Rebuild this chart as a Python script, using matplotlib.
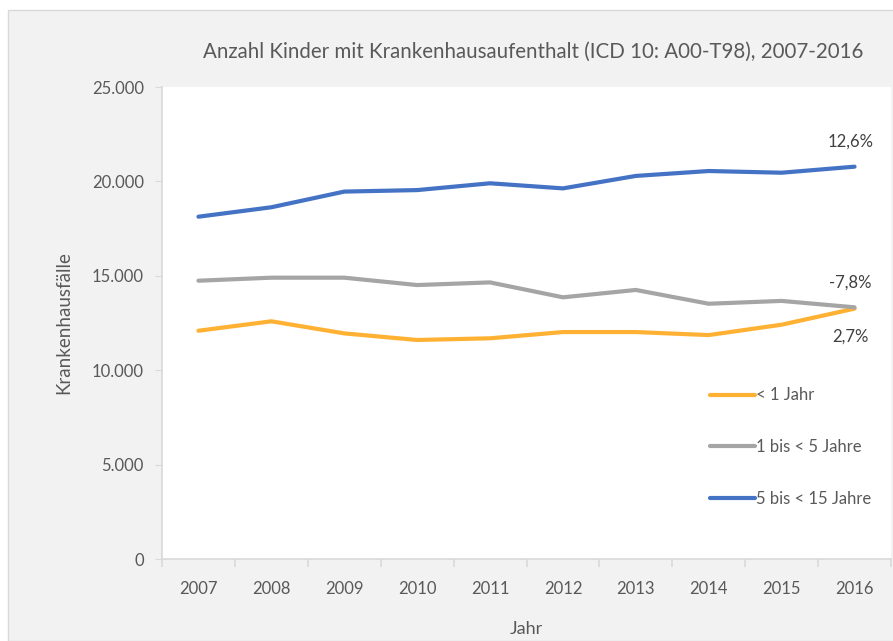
import matplotlib.pyplot as plt
from matplotlib.patches import Rectangle
from matplotlib.ticker import FuncFormatter, FixedLocator

plt.rcParams['font.family'] = ['Lato', 'DejaVu Sans']

years = ['2007', '2008', '2009', '2010', '2011', '2012', '2013', '2014', '2015', '2016']
unter_1 = [12090, 12590, 11950, 11600, 11690, 12020, 12020, 11860, 12410, 13260]
bis_5 = [14740, 14900, 14900, 14510, 14650, 13860, 14250, 13520, 13670, 13330]
bis_15 = [18130, 18630, 19460, 19540, 19900, 19630, 20290, 20550, 20460, 20780]
labels = ['< 1 Jahr', '1 bis < 5 Jahre', '5 bis < 15 Jahre']
changes = ['2,7%', '-7,8%', '12,6%']

W, H = 893, 641
fig = plt.figure(figsize=(W / 100, H / 100), dpi=100, facecolor='white')
# grey chart area (screenshot has a thin white margin top/left)
fig.patches.append(Rectangle((8 / W, 0), 1, 1 - 10 / H, transform=fig.transFigure,
                             facecolor='#f2f2f2', edgecolor='#d9d9d9', lw=1, zorder=-10))

ax = fig.add_axes([162 / W, 1 - 559 / H, (891 - 162) / W, (559 - 87) / H])
ax.set_facecolor('white')

txt = '#595959'
x = range(len(years))
ax.plot(x, unter_1, color='#FFB133', lw=3, label=labels[0], solid_capstyle='round')
ax.plot(x, bis_5, color='#A5A5A5', lw=3, label=labels[1], solid_capstyle='round')
ax.plot(x, bis_15, color='#4472C4', lw=3, label=labels[2], solid_capstyle='round')

ax.set_xlim(-0.5, len(years) - 0.5)
ax.set_ylim(0, 25000)
ax.set_yticks(range(0, 25001, 5000))
ax.yaxis.set_major_formatter(FuncFormatter(lambda v, p: f"{int(v):,}".replace(',', '.')))
ax.set_xticks(list(x))
ax.set_xticklabels(years)
ax.xaxis.set_minor_locator(FixedLocator([i - 0.5 for i in range(len(years) + 1)]))

for s in ['top', 'right']:
    ax.spines[s].set_visible(False)
for s in ['left', 'bottom']:
    ax.spines[s].set_color('#d9d9d9')
    ax.spines[s].set_linewidth(1.2)
ax.tick_params(axis='y', colors='#d9d9d9', labelcolor=txt, labelsize=12, length=5, pad=8)
ax.tick_params(axis='x', which='major', length=0, labelcolor=txt, labelsize=12, pad=16)
ax.tick_params(axis='x', which='minor', length=6, color='#d9d9d9', width=1.2)

ax.set_ylabel('Krankenhausfälle', color=txt, fontsize=13.5, labelpad=14)
ax.set_xlabel('Jahr', color=txt, fontsize=13, labelpad=17)
fig.text(533 / W, 1 - 52 / H, 'Anzahl Kinder mit Krankenhausaufenthalt (ICD 10: A00-T98), 2007-2016',
         ha='center', va='center', color=txt, fontsize=14.8)

# percentage change labels next to the 2016 values
ax.annotate(changes[2], (9, bis_15[-1]), xytext=(-3, 18), textcoords='offset points',
            ha='center', va='center', color='#404040', fontsize=12)
ax.annotate(changes[1], (9, bis_5[-1]), xytext=(-3, 18), textcoords='offset points',
            ha='center', va='center', color='#404040', fontsize=12)
ax.annotate(changes[0], (9, unter_1[-1]), xytext=(-3, -20), textcoords='offset points',
            ha='center', va='center', color='#404040', fontsize=12)

leg = ax.legend(loc='upper left', bbox_to_anchor=(702 / W, 1 - 379 / H),
                bbox_transform=fig.transFigure, frameon=False, fontsize=12,
                handlelength=2.7, handletextpad=0.05, labelspacing=2.15, borderpad=0)
for t in leg.get_texts():
    t.set_color(txt)

fig.savefig('out.png', dpi=100, facecolor=fig.get_facecolor())
